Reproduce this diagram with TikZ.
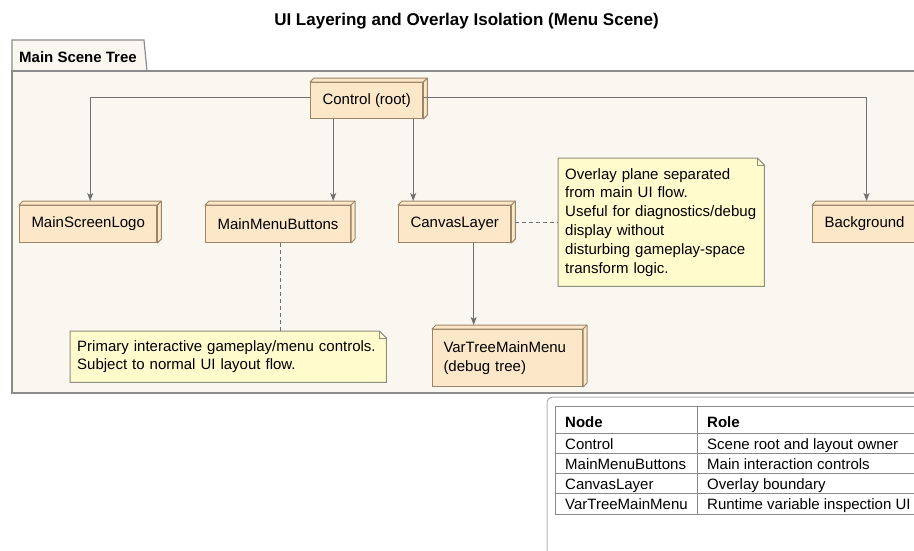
\documentclass[tikz,border=0pt]{standalone}
\usepackage{fontspec}
\setmainfont{Liberation Sans}
\usetikzlibrary{calc,arrows.meta}

\definecolor{pkgfill}{HTML}{FAF7F0}
\definecolor{pkgline}{HTML}{8C8C8C}
\definecolor{boxfill}{HTML}{FCE7C9}
\definecolor{boxline}{HTML}{9E8467}
\definecolor{notefill}{HTML}{FFFBCC}
\definecolor{noteline}{HTML}{8E8E7E}
\definecolor{wire}{HTML}{707070}
\definecolor{gridline}{HTML}{8A8A8A}
\definecolor{frameline}{HTML}{B4B4B4}

\pgfdeclarelayer{bg}
\pgfdeclarelayer{mid}
\pgfsetlayers{bg,mid,main}

\tikzset{
  txt/.style={font=\fontsize{15}{18.8}\selectfont, text=black},
  uinode/.style={txt, draw=boxline, fill=boxfill, line width=1pt,
    minimum height=37pt, inner xsep=12pt, inner ysep=0pt, anchor=north west},
  boxedge/.style={draw=boxline, fill=boxfill, line width=1pt, line join=round},
  notetext/.style={txt, align=left, inner xsep=7pt, inner ysep=0pt, anchor=north west},
  noteedge/.style={draw=noteline, fill=notefill, line width=1pt},
  conn/.style={draw=wire, line width=1pt, -{Stealth[length=8pt,width=6pt,inset=2pt]}},
  notelink/.style={draw=wire, line width=1pt, dash pattern=on 4pt off 3pt},
  cell/.style={txt, anchor=base west, inner sep=0pt},
}

% extruded top and right faces of a 3D box node
\newcommand\boxdepth[1]{%
  \filldraw[boxedge] (#1.north west) -- ([shift={(4pt,4pt)}]#1.north west)
    -- ([shift={(4pt,4pt)}]#1.north east) -- ([shift={(4pt,4pt)}]#1.south east)
    -- (#1.south east) -- (#1.north east) -- cycle;
  \draw[boxedge, fill=none] (#1.north east) -- ([shift={(4pt,4pt)}]#1.north east);}

% note outline with a folded top-right corner, drawn under the text
\newcommand\noteshape[1]{%
  \begin{pgfonlayer}{mid}
    \filldraw[noteedge] (#1.north west) -- ([xshift=-7pt]#1.north east)
      -- ([yshift=-7pt]#1.north east) -- (#1.south east) -- (#1.south west) -- cycle;
    \draw[noteedge, fill=none] ([xshift=-7pt]#1.north east) |- ([yshift=-7pt]#1.north east);
  \end{pgfonlayer}}

\begin{document}
\begin{tikzpicture}[x=1pt, y=-1pt]
  \useasboundingbox (0,0) rectangle (914,550);
  \clip (0,0) rectangle (914,550);

  % page and package frame
  \begin{pgfonlayer}{bg}
    \clip (0,0) rectangle (914,550);
    \fill[white] (0,0) rectangle (914,550);
    \filldraw[fill=pkgfill, draw=pkgline, line width=1.2pt]
      (12,71) -- (12,40) -- (144,40) -- (147,71) -- cycle;
    \filldraw[fill=pkgfill, draw=pkgline, line width=1.2pt]
      (12,71) rectangle (940,393);
  \end{pgfonlayer}

  \node[font=\fontsize{17}{20}\selectfont\bfseries, anchor=base] (title) at (466.5,25)
    {UI Layering and Overlay Isolation (Menu Scene)};
  \node[txt, font=\fontsize{15}{18}\selectfont\bfseries, anchor=base west, inner sep=0pt]
    (pkgname) at (19,62) {Main Scene Tree};

  % scene nodes
  \node[uinode, minimum width=111pt, minimum height=36pt] (ctrl) at (310,82) {Control (root)};
  \node[uinode, minimum width=137pt] (logo) at (19,205) {MainScreenLogo};
  \node[uinode, minimum width=145pt] (mmb) at (205,205) {MainMenuButtons};
  \node[uinode, minimum width=112pt] (cl) at (398,205) {CanvasLayer};
  \node[uinode, minimum width=104pt] (bg) at (812,205) {Background};
  \node[uinode, minimum width=150pt, minimum height=57pt, text width=128pt,
        inner xsep=11pt, align=left] (vt) at (432,329) {VarTreeMainMenu\\(debug tree)};
  \foreach \n in {ctrl,logo,mmb,cl,bg,vt} {\boxdepth{\n}}

  % notes
  \node[notetext, minimum width=316pt, minimum height=51pt, text width=302pt] (note1) at (70,331)
    {Primary interactive gameplay/menu controls.\\Subject to normal UI layout flow.};
  \node[notetext, minimum width=206pt, minimum height=128pt, text width=192pt] (note2) at (558,158)
    {Overlay plane separated\\from main UI flow.\\Useful for diagnostics/debug\\display without\\disturbing gameplay-space\\transform logic.};
  \noteshape{note1}
  \noteshape{note2}

  % connectors
  \coordinate (mmbtop) at ([yshift=4pt]mmb.north);
  \coordinate (cltop) at ([yshift=4pt]cl.north);
  \coordinate (vttop) at ([yshift=4pt]vt.north);
  \coordinate (c1) at ([xshift=-33.5pt]ctrl.south);
  \coordinate (c2) at ([xshift=46.5pt]ctrl.south);
  \coordinate (c3) at ([xshift=19pt]cl.south);
  \coordinate (c4) at ([xshift=2.5pt]mmb.south);
  \coordinate (c5) at ([xshift=4pt]cl.east);

  \draw[conn] ([yshift=3pt]ctrl.west) -| ([xshift=2pt,yshift=4pt]logo.north);
  \draw[conn] (c1) -- (c1 |- mmbtop);
  \draw[conn] (c2) -- (c2 |- cltop);
  \draw[conn] ([yshift=3pt]ctrl.east) -| ([xshift=2pt,yshift=4pt]bg.north);
  \draw[conn] (c3) -- (c3 |- vttop);
  \draw[notelink] (c4) -- (c4 |- note1.north);
  \draw[notelink] (c5 |- note2.west) -- (note2.west);

  % legend table
  \draw[frameline, line width=1pt, rounded corners=6pt] (547,560) -- (547,397) -- (930,397);
  \draw[gridline, line width=1pt] (555,406) rectangle (918,514);
  \foreach \y in {433,453,473,493} {\draw[gridline, line width=1pt] (555,\y) -- (918,\y);}
  \draw[gridline, line width=1pt] (697,406) -- (697,514);

  \node[cell, font=\fontsize{15}{18}\selectfont\bfseries] (h1) at (565,427) {Node};
  \node[cell, font=\fontsize{15}{18}\selectfont\bfseries] (h2) at (707,427) {Role};
  \node[cell] (r1a) at (565,449) {Control};
  \node[cell] (r1b) at (707,449) {Scene root and layout owner};
  \node[cell] (r2a) at (565,469) {MainMenuButtons};
  \node[cell] (r2b) at (707,469) {Main interaction controls};
  \node[cell] (r3a) at (565,489) {CanvasLayer};
  \node[cell] (r3b) at (707,489) {Overlay boundary};
  \node[cell] (r4a) at (565,509) {VarTreeMainMenu};
  \node[cell] (r4b) at (707,509) {Runtime variable inspection UI};
\end{tikzpicture}
\end{document}
